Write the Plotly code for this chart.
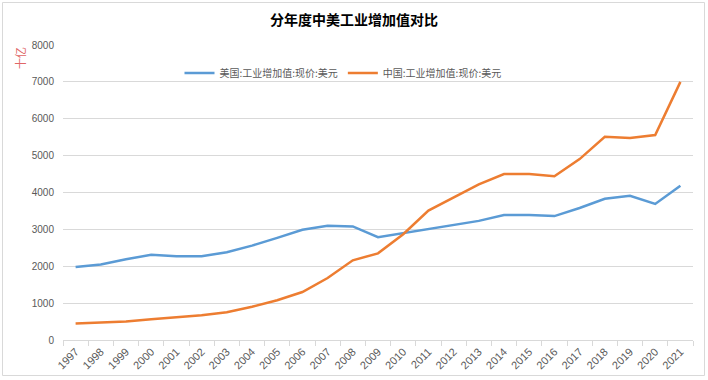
import plotly.graph_objects as go

years = [str(y) for y in range(1997, 2022)]
us_values = [1980, 2050, 2190, 2310, 2270, 2270, 2380, 2560, 2770, 2990, 3100, 3080,
             2790, 2900, 3030, 3120, 3230, 3390, 3390, 3360, 3580, 3830, 3910, 3690, 4185]
cn_values = [450, 475, 500, 560, 610, 670, 750, 900, 1080, 1300, 1680, 2160,
             2350, 2870, 3510, 3870, 4220, 4500, 4500, 4440, 4905, 5510, 5480, 5560, 7000]
series_names = ["美国:工业增加值:现价:美元", "中国:工业增加值:现价:美元"]
y_ticks = list(range(0, 8001, 1000))

FONT = "Liberation Sans, Arial, Noto Sans CJK SC, sans-serif"
GRAY = "#595959"
GRID = "#d9d9d9"

fig = go.Figure()
fig.add_trace(go.Scatter(x=years, y=us_values, mode="lines", name=series_names[0],
                         line=dict(color="#5B9BD5", width=2.5)))
fig.add_trace(go.Scatter(x=years, y=cn_values, mode="lines", name=series_names[1],
                         line=dict(color="#ED7D31", width=2.5)))

L, R, T, B = 63, 15, 45, 40
W, H = 708, 380
pw, ph = W - L - R, H - T - B

fig.update_layout(
    width=W, height=H,
    margin=dict(l=L, r=R, t=T, b=B, autoexpand=False),
    paper_bgcolor="white", plot_bgcolor="white",
    font=dict(family=FONT, color=GRAY, size=10),
    title=dict(text="<b>分年度中美工业增加值对比</b>", x=0.5, xanchor="center",
               y=1 - 20 / H, yanchor="middle",
               font=dict(family="Noto Sans CJK SC, sans-serif", size=14, color="#000000")),
    showlegend=True,
    legend=dict(orientation="h", x=(343 - L) / pw, xanchor="center",
                y=(H - B - 73) / ph, yanchor="middle",
                font=dict(family="Noto Sans CJK SC, sans-serif", size=10, color=GRAY),
                bgcolor="rgba(0,0,0,0)", itemwidth=30, tracegroupgap=0),
    xaxis=dict(type="category", range=[-0.5, len(years) - 0.5], tickson="boundaries",
               showgrid=False, showline=True, linecolor=GRID, linewidth=1,
               ticks="outside", ticklen=5, tickcolor=GRID,
               tickangle=-45, tickfont=dict(size=11, color=GRAY),
               zeroline=False),
    yaxis=dict(range=[0, 8000], tickvals=y_ticks, showgrid=True, gridcolor=GRID,
               gridwidth=1, zeroline=False, showline=False, ticks="",
               ticklabelstandoff=8, tickfont=dict(size=10, color=GRAY)),
    shapes=[dict(type="rect", xref="paper", yref="paper",
                 x0=(2.5 - L) / pw, x1=(704.5 - L) / pw,
                 y0=(H - B - 375.5) / ph, y1=(H - B - 2.5) / ph,
                 line=dict(color=GRID, width=1), fillcolor="rgba(0,0,0,0)", layer="above")],
    annotations=[dict(text="十亿", xref="paper", yref="paper",
                      x=(20 - L) / pw, y=(H - B - 58) / ph, xanchor="center", yanchor="middle",
                      textangle=-90, showarrow=False,
                      font=dict(family="Noto Sans CJK SC, sans-serif", size=11, color="#E06666"))],
)

fig.write_html("out.html", config={"displayModeBar": False},
               post_script="document.body.style.margin='0';document.body.style.overflow='hidden';")
